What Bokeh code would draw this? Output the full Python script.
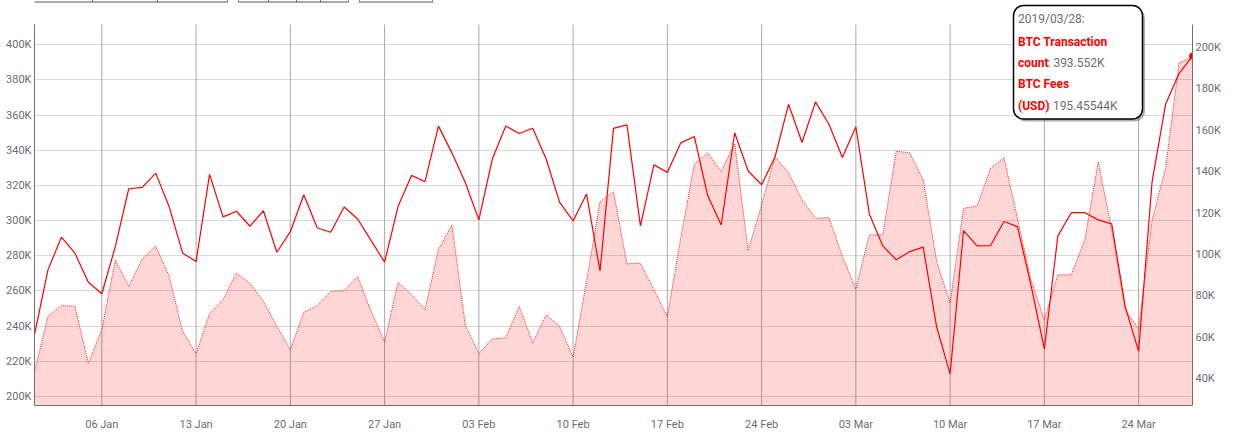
import pandas as pd
from bokeh.plotting import figure
from bokeh.models import (Range1d, LinearAxis, FixedTicker, CustomJSTickFormatter,
                          DatetimeTickFormatter, BoxAnnotation, Label, ColumnDataSource)
from bokeh.embed import file_html
from bokeh.resources import INLINE

# ---------------- data ----------------
start_date = "2019-01-01"
end_date = "2019-03-28"

tx_count_k = [235.2, 272.0, 290.6, 281.5, 265.0, 258.4, 285.2, 318.1, 318.9, 327.0,
              307.9, 281.5, 276.7, 326.3, 302.1, 305.3, 296.8, 305.6, 282.0, 293.7,
              314.7, 295.8, 293.4, 307.7, 300.9, 288.6, 276.4, 308.1, 325.7, 322.1,
              353.7, 338.5, 321.5, 300.4, 335.0, 353.8, 349.5, 352.5, 335.0, 310.4,
              299.8, 315.1, 271.4, 352.4, 354.4, 297.0, 331.7, 327.4, 344.2, 347.8,
              314.1, 297.5, 349.9, 328.2, 320.4, 336.3, 366.1, 344.4, 367.5, 354.8,
              335.9, 353.3, 303.8, 285.6, 277.7, 282.4, 284.9, 239.5, 212.9, 294.3,
              285.6, 285.8, 299.5, 296.6, 263.5, 227.0, 291.3, 304.5, 304.5, 300.4,
              298.1, 251.2, 225.7, 322.1, 366.1, 383.6, 393.552]

fees_usd_k = [43.2, 70.1, 75.3, 75.0, 47.4, 63.7, 97.4, 84.6, 97.8, 104.2,
              89.4, 62.9, 52.2, 71.4, 78.2, 91.0, 86.2, 77.4, 65.3, 54.1,
              72.1, 75.3, 82.2, 82.5, 89.4, 72.6, 57.8, 86.5, 80.6, 73.4,
              102.3, 114.3, 65.7, 52.2, 59.3, 59.7, 75.0, 57.3, 71.0, 65.3,
              50.6, 87.0, 125.5, 130.3, 95.5, 95.8, 83.0, 70.1, 108.0, 143.7,
              149.1, 140.0, 153.6, 101.9, 123.9, 147.2, 139.5, 126.3, 117.5, 117.8,
              99.0, 83.3, 109.5, 109.5, 149.9, 149.1, 136.0, 96.6, 76.6, 122.3,
              123.4, 141.6, 146.7, 117.5, 87.8, 68.5, 90.2, 90.2, 107.1, 144.8,
              111.9, 73.4, 64.1, 116.7, 141.6, 192.5, 195.45544]

week_tick_start = "2019-01-06"
week_tick_end = "2019-03-24"
left_ticks_k = [200, 220, 240, 260, 280, 300, 320, 340, 360, 380, 400]
right_ticks_k = [40, 60, 80, 100, 120, 140, 160, 180, 200]

tx_name = "BTC Transaction count"
fees_name = "BTC Fees (USD)"

# visible value windows of the two axes (K)
left_lo, left_hi = 194.9, 411.5
right_lo, right_hi = 27.1, 211.1

# ---------------- layout constants (page pixels) ----------------
W = 1241
FRAME_L, FRAME_T, FRAME_R, FRAME_B = 34, 24, 1192, 406
H = FRAME_B + 27
# the frame is stretched up to the canvas top so that the tooltip can overhang
pix_left = (left_hi - left_lo) / (FRAME_B - FRAME_T)
pix_right = (right_hi - right_lo) / (FRAME_B - FRAME_T)
left_top_ext = left_hi + FRAME_T * pix_left
right_top_ext = right_hi + FRAME_T * pix_right

# ---------------- build ----------------
dates = pd.date_range(start_date, end_date, freq="D")
week_ticks = pd.date_range(week_tick_start, week_tick_end, freq="7D")
week_ticks_ms = [int(t.value // 10**6) for t in week_ticks]

src = ColumnDataSource(dict(date=dates, tx=tx_count_k, fees=fees_usd_k,
                            base=[0.0] * len(dates)))
grid_src = ColumnDataSource(dict(x=list(week_ticks),
                                 y0=[left_lo] * len(week_ticks),
                                 y1=[left_hi] * len(week_ticks)))

FONT = "Roboto"
LABEL_COLOR = "#6b6b78"
AXIS_COLOR = "#7d6b6b"

p = figure(width=W, height=H, x_axis_type="datetime", title=None,
           output_backend="svg", toolbar_location=None,
           x_range=Range1d(dates[0], dates[-1]),
           y_range=Range1d(left_lo, left_top_ext),
           min_border_left=FRAME_L, min_border_right=W - FRAME_R,
           min_border_top=0, min_border_bottom=H - FRAME_B)
p.extra_y_ranges = {"fees": Range1d(right_lo, right_top_ext)}
p.outline_line_color = None
p.background_fill_color = "white"
p.border_fill_color = "white"

# weekly vertical grid lines (limited to the visible window)
p.xgrid.visible = False
p.segment(x0="x", y0="y0", x1="x", y1="y1", source=grid_src,
          line_color="#a9a9a9", line_width=1)

# fees area + dotted line (right axis)
p.varea(x="date", y1="base", y2="fees", source=src, y_range_name="fees",
        fill_color="red", fill_alpha=0.16)
p.line(x="date", y="fees", source=src, y_range_name="fees",
       line_color="red", line_width=1, line_dash="1 1", line_alpha=0.85)

# transaction count line (left axis)
p.line(x="date", y="tx", source=src, line_color="red", line_width=1.2)
p.scatter(x=[dates[-1]], y=[tx_count_k[-1]], size=6, color="red")


def style_axis(ax, standoff):
    ax.major_tick_out = 0
    ax.major_tick_in = 0
    ax.minor_tick_out = 0
    ax.minor_tick_in = 0
    ax.major_label_standoff = standoff
    ax.axis_line_color = AXIS_COLOR
    ax.major_label_text_font = FONT
    ax.major_label_text_font_size = "11px"
    ax.major_label_text_color = LABEL_COLOR


# x axis
xa = p.xaxis[0]
xa.ticker = FixedTicker(ticks=week_ticks_ms)
xa.formatter = DatetimeTickFormatter(days="%d %b", months="%d %b", years="%d %b",
                                     hours="%d %b", minutes="%d %b")
style_axis(xa, 12)

# left axis
ya = p.yaxis[0]
ya.ticker = FixedTicker(ticks=left_ticks_k)
ya.formatter = CustomJSTickFormatter(code="return tick.toFixed(0) + 'K';")
ya.bounds = (left_lo, left_hi)
style_axis(ya, 3)

# right axis
ra = LinearAxis(y_range_name="fees", ticker=FixedTicker(ticks=right_ticks_k),
                formatter=CustomJSTickFormatter(code="return tick.toFixed(0) + 'K';"),
                bounds=(right_lo, right_hi))
style_axis(ra, 3)
p.add_layout(ra, "right")

p.ygrid.ticker = FixedTicker(ticks=left_ticks_k)
p.ygrid.grid_line_color = "#d9d9d9"


# ---------------- helpers for page-pixel annotations ----------------
def sx(xp):
    return xp - FRAME_L


def sy(yp):
    return FRAME_B - yp


def pbox(fig, x0, x1, y0, y1, **kw):
    b = BoxAnnotation(left=sx(x0), right=sx(x1), top=sy(y0), bottom=sy(y1),
                      left_units="screen", right_units="screen",
                      top_units="screen", bottom_units="screen", **kw)
    fig.add_layout(b)
    return b


# range-selector buttons (only their lower edges are visible at the top)
for (x0, x1) in [(33, 92), (92, 157), (157, 227), (238, 268), (268, 296),
                 (296, 320), (320, 348), (359, 432)]:
    pbox(p, x0, x1, -20, 2.5, fill_alpha=0, line_color="#555555", line_width=1,
         line_alpha=1.0)

# ---------------- hover-style tooltip ----------------
pbox(p, 1015, 1144.5, 8.5, 122, fill_color="#777777", fill_alpha=0.6, line_color=None,
     border_radius=10)
pbox(p, 1013, 1142, 6, 119.5, fill_color="white", fill_alpha=1.0, line_color="black",
     line_alpha=1.0, line_width=1.5, border_radius=10)

tx_words = tx_name.split(" ")
fees_words = fees_name.split(" ")
lines = [
    (1017.5, 19.5, dates[-1].strftime("%Y/%m/%d") + ":", "#6e6e6e", "normal"),
    (1017.5, 42.7, " ".join(tx_words[:2]), "red", "bold"),
    (1017.5, 63.3, tx_words[2], "red", "bold"),
    (1047.0, 63.3, ": " + repr(tx_count_k[-1]) + "K", "#6e6e6e", "normal"),
    (1017.5, 84.3, " ".join(fees_words[:2]), "red", "bold"),
    (1017.5, 106.0, fees_words[2], "red", "bold"),
    (1046.5, 106.0, ": " + repr(fees_usd_k[-1]) + "K", "#6e6e6e", "normal"),
]
for (lx, ly, txt, col, style) in lines:
    p.add_layout(Label(x=sx(lx), y=sy(ly), x_units="screen", y_units="screen", text=txt,
                       text_color=col, text_font=FONT, text_font_size="12px",
                       text_font_style=style, text_baseline="middle",
                       text_align="left"))

open("out.html", "w").write(file_html(p, INLINE))
